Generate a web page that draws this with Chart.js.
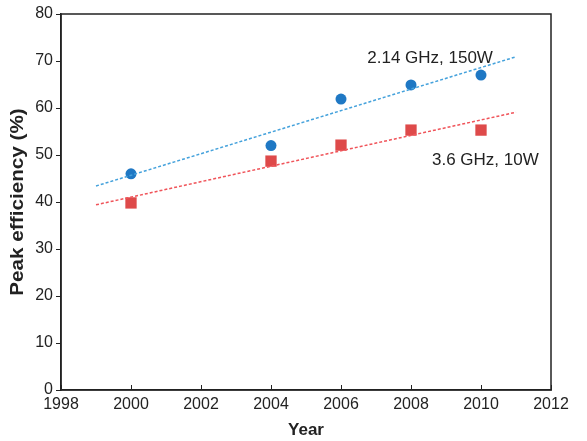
<!DOCTYPE html>
<html><head><meta charset="utf-8">
<script src="https://cdn.jsdelivr.net/npm/chart.js@4/dist/chart.umd.min.js"></script>
<style>html,body{margin:0;padding:0;background:#fff}#wrap{width:587px;height:441px}</style>
</head><body><div id="wrap"><canvas id="c" width="587" height="441"></canvas></div>
<script>
const years = [2000, 2004, 2006, 2008, 2010];
const eff150W = [46.0, 52.0, 61.9, 64.9, 67.0];
const eff10W = [39.8, 48.7, 52.1, 55.3, 55.3];
const trendYears = [1999, 2011];
const trend150W = [43.4, 70.9];
const trend10W = [39.4, 59.1];
const xTicks = [1998, 2000, 2002, 2004, 2006, 2008, 2010, 2012];
const yTicks = [0, 10, 20, 30, 40, 50, 60, 70, 80];
const seriesLabels = ['2.14 GHz, 150W', '3.6 GHz, 10W'];
const yTitle = 'Peak efficiency (%)';

const pts = (xs, ys) => xs.map((x, i) => ({x, y: ys[i]}));
const FONT = '"Liberation Sans", Arial, sans-serif';

const decor = {
  id: 'decor',
  afterDraw(chart) {
    const {ctx, chartArea: a, scales: {x, y}} = chart;
    ctx.save();
    ctx.strokeStyle = '#222';
    ctx.lineWidth = 1.5;
    ctx.strokeRect(a.left, a.top, a.right - a.left, a.bottom - a.top);
    ctx.lineWidth = 1;
    xTicks.forEach(v => {
      const px = Math.round(x.getPixelForValue(v)) + 0.5;
      ctx.beginPath(); ctx.moveTo(px, a.bottom); ctx.lineTo(px, a.bottom - 5); ctx.stroke();
    });
    ctx.fillStyle = '#222';
    ctx.font = '17px ' + FONT;
    ctx.textAlign = 'left';
    ctx.textBaseline = 'middle';
    ctx.fillText(seriesLabels[0], x.getPixelForValue(2006.75), y.getPixelForValue(70.6));
    ctx.fillText(seriesLabels[1], x.getPixelForValue(2008.6), y.getPixelForValue(48.9));
    // y axis title (slightly stretched along its length like the reference)
    ctx.save();
    ctx.translate(18, (a.top + a.bottom) / 2);
    ctx.rotate(-Math.PI / 2);
    ctx.scale(1.15, 1);
    ctx.font = 'bold 18px ' + FONT;
    ctx.textAlign = 'center';
    ctx.textBaseline = 'middle';
    ctx.fillText(yTitle, 0, 0);
    ctx.restore();
    ctx.restore();
  }
};

new Chart(document.getElementById('c'), {
  type: 'scatter',
  data: {
    datasets: [
      {label: 'trend150', type: 'line', data: pts(trendYears, trend150W), borderColor: '#45a2dc', borderWidth: 1.5, borderDash: [3, 2], pointRadius: 0, fill: false},
      {label: 'trend10', type: 'line', data: pts(trendYears, trend10W), borderColor: '#f0545a', borderWidth: 1.5, borderDash: [3, 2], pointRadius: 0, fill: false},
      {label: seriesLabels[0], data: pts(years, eff150W), pointStyle: 'circle', pointRadius: 5.5, backgroundColor: '#1f78c4', borderColor: '#1f78c4', borderWidth: 0},
      {label: seriesLabels[1], data: pts(years, eff10W), pointStyle: 'rect', pointRadius: 8, backgroundColor: '#de4a4a', borderColor: '#de4a4a', borderWidth: 0}
    ]
  },
  options: {
    responsive: false,
    animation: false,
    layout: {padding: {left: 0, right: 36, top: 14, bottom: 0}},
    plugins: {legend: {display: false}, tooltip: {enabled: false}},
    scales: {
      x: {
        type: 'linear', min: 1998, max: 2012,
        afterBuildTicks: s => { s.ticks = xTicks.map(v => ({value: v})); },
        afterFit: s => { s.height = 51; },
        grid: {display: false, drawTicks: false},
        border: {display: true, color: '#222', width: 1.5},
        ticks: {padding: 5, color: '#222', font: {family: FONT, size: 16}, maxRotation: 0, autoSkip: false, callback: v => String(v)},
        title: {display: true, text: 'Year', color: '#222', font: {family: FONT, size: 17, weight: 'bold'}, padding: {top: 0, bottom: 0}}
      },
      y: {
        type: 'linear', min: 0, max: 80,
        afterBuildTicks: s => { s.ticks = yTicks.map(v => ({value: v})); },
        afterFit: s => { s.width = 61; },
        grid: {drawOnChartArea: false, drawTicks: true, tickLength: 5, color: '#222'},
        border: {display: true, color: '#222', width: 1.5},
        ticks: {padding: 3, color: '#222', font: {family: FONT, size: 16}, autoSkip: false},
        title: {display: false}
      }
    }
  },
  plugins: [decor]
});
</script>
</body></html>
